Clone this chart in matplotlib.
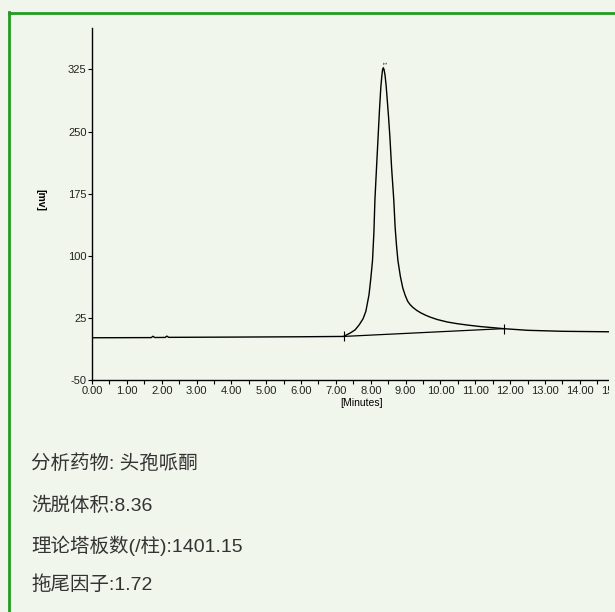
import matplotlib
matplotlib.use("Agg")
import matplotlib.pyplot as plt
from matplotlib.lines import Line2D
from matplotlib.patches import Rectangle

plt.rcParams['font.family'] = ['Liberation Sans', 'Noto Sans CJK SC', 'DejaVu Sans']
plt.rcParams['axes.unicode_minus'] = False

# chromatogram: time [min], signal [mv]
time_min = [0.00, 1.70, 1.75, 1.80, 2.10, 2.15, 2.20, 4.00, 6.00, 7.22,
            7.41, 7.55, 7.67, 7.78, 7.86, 7.95, 8.00, 8.05, 8.09, 8.12,
            8.17, 8.21, 8.25, 8.29, 8.32, 8.34, 8.36, 8.38, 8.41, 8.44,
            8.47, 8.51, 8.55, 8.60, 8.66, 8.70, 8.74, 8.78, 8.85, 8.92,
            8.99, 9.06, 9.13, 9.20, 9.32, 9.44, 9.57, 9.70, 9.91, 10.20,
            10.48, 10.80, 11.15, 11.50, 11.81, 12.50, 13.50, 15.30]
signal_mv = [1.0, 1.2, 2.8, 1.3, 1.4, 3.0, 1.5, 1.8, 2.2, 2.6,
             6.7, 10.5, 16.7, 24.0, 33.0, 53.0, 72.0, 94.0, 128.0, 168.0,
             210.0, 243.0, 276.0, 304.0, 318.0, 325.0, 327.0, 325.0, 318.0, 306.0,
             290.0, 268.0, 243.0, 205.0, 168.0, 134.0, 112.0, 94.0, 75.0, 61.0,
             52.0, 45.0, 41.0, 38.0, 34.0, 31.0, 28.3, 26.0, 23.0, 20.0,
             18.0, 16.2, 14.5, 13.2, 12.0, 10.0, 8.8, 8.0]

# integration baseline (start / end of peak 1)
base_t = [7.22, 11.81]
base_mv = [2.6, 12.0]
peak_t = 8.36
peak_mv = 327.0

x_ticks = [0, 1, 2, 3, 4, 5, 6, 7, 8, 9, 10, 11, 12, 13, 14, 15]
y_ticks = [-50, 25, 100, 175, 250, 325]

info_lines = ["分析药物: 头孢哌酮", "洗脱体积:8.36", "理论塔板数(/柱):1401.15", "拖尾因子:1.72"]

bg = '#f1f6ec'
fig = plt.figure(figsize=(6.15, 6.12), dpi=100, facecolor=bg)

W, H = 615.0, 612.0

ax = fig.add_axes([92 / W, 232 / H, 15.3 * 35.3 / W, 352 / H])
ax.set_facecolor(bg)
ax.plot(time_min, signal_mv, color='black', lw=1.0)
ax.plot(base_t, base_mv, color='black', lw=0.9, marker='|', markersize=7, markeredgewidth=0.8)
ax.text(peak_t, peak_mv + 4, '1', rotation=-90, fontsize=4.5, ha='center', va='bottom', color='#333333')

ax.set_xlim(0, 15.3)
ax.set_ylim(-50, 375)
ax.set_xticks(x_ticks)
ax.set_xticklabels([f'{v:.2f}' for v in x_ticks])
ax.set_xticks([v + 0.5 for v in x_ticks], minor=True)
ax.set_yticks(y_ticks)
ax.tick_params(axis='both', labelsize=8, length=3, width=0.8, pad=1, colors='black', labelcolor='#222222')
ax.tick_params(axis='x', which='minor', length=3, width=0.8)
for s in ['top', 'right']:
    ax.spines[s].set_visible(False)
for s in ['left', 'bottom']:
    ax.spines[s].set_linewidth(1.0)
ax.set_xlabel('[Minutes]', fontsize=7.5, labelpad=2)
fig.text(40 / W, 1 - 200 / H, '[mv]', rotation=-90, fontsize=7.5, fontweight='bold', ha='center', va='center')

# screenshot is cropped on the right: cover everything past the plot edge
fig.add_artist(Rectangle((609 / W, 0), 1, 1 - 16 / H, transform=fig.transFigure,
                         facecolor=bg, edgecolor='none', zorder=5))

# green card border (top and left visible)
fig.add_artist(Line2D([9 / W, 9 / W], [0, 1 - 12 / H], color='#239a23', lw=2.0, transform=fig.transFigure, zorder=6))
fig.add_artist(Line2D([9 / W, 1], [1 - 13 / H, 1 - 13 / H], color='#239a23', lw=2.0, transform=fig.transFigure, zorder=6))

ys = [464, 506, 546, 585]
for txt, yp in zip(info_lines, ys):
    fig.text(31 / W, 1 - yp / H, txt, fontsize=14, color='#333333', ha='left', va='center')

fig.savefig('out.png', dpi=100, facecolor=bg)
